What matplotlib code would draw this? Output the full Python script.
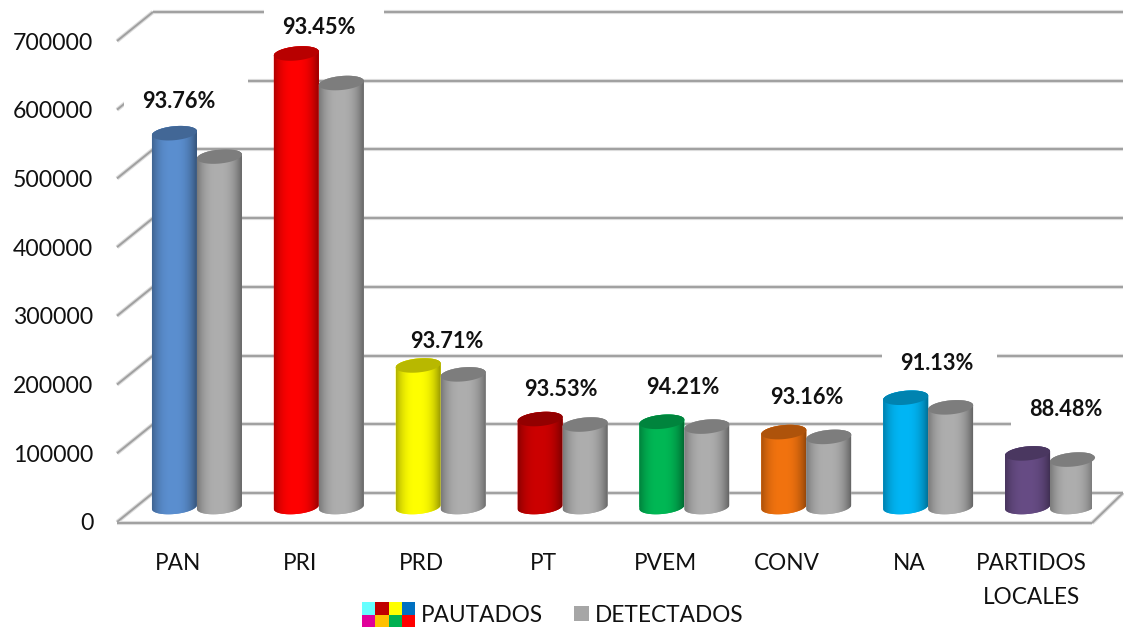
import numpy as np
import matplotlib
matplotlib.use("Agg")
import matplotlib.pyplot as plt
from matplotlib.patches import Polygon, Rectangle
from matplotlib.legend_handler import HandlerBase
from matplotlib.colors import to_rgb

# ---- data ----
categories = ["PAN", "PRI", "PRD", "PT", "PVEM", "CONV", "NA", "PARTIDOS\nLOCALES"]
pautados = [544000, 660000, 206000, 128000, 124000, 109000, 159000, 78000]
detectados = [510000, 617000, 193000, 120000, 117000, 102000, 145000, 69000]
percent_labels = ["93.76%", "93.45%", "93.71%", "93.53%", "94.21%", "93.16%", "91.13%", "88.48%"]
y_ticks = [0, 100000, 200000, 300000, 400000, 500000, 600000, 700000]

# ---- styles / layout ----
bar_colors = ["#5B8FD0", "#FF0000", "#FFFF00", "#CC0000", "#00B855", "#F2730F", "#00B6F5", "#674C85"]
gray = "#AEAEAE"
legend_cells = ["#66FFFF", "#C00000", "#FFFF00", "#0070C0", "#E0009A", "#FFC000", "#00B050", "#FF0000"]
label_px = [(179, 102), (319, 28), (447, 341), (561, 389), (683, 387), (807, 397), (937, 364), (1066, 410)]
white_boxes_px = [(124, 70, 248, 125), (264, 0, 384, 40), (882, 345, 997, 378), (1011, 385, 1124, 440)]

W, H = 1124, 628
plt.rcParams["font.family"] = ["Lato", "DejaVu Sans"]
fig = plt.figure(figsize=(W / 100, H / 100), dpi=100, facecolor="white")
L, R, T, B = 117, 1092, 41, 522
ax = fig.add_axes([L / W, 1 - B / H, (R - L) / W, (B - T) / H])
ax.set_xlim(-0.5, 7.5)
ax.set_ylim(0, 700000)
for s in ax.spines.values():
    s.set_visible(False)

PXX = 8 / (R - L)
PXY = 700000 / (B - T)
def dx(p): return p * PXX
def dy(p): return p * PXY
def X(p): return -0.5 + (p - L) * PXX
def Y(p): return (B - p) * PXY

ax.set_yticks(y_ticks)
ax.set_yticklabels([str(v) for v in y_ticks], fontsize=16.6, color="#111111")
ax.set_xticks(range(len(categories)))
ax.set_xticklabels(categories, fontsize=16.3, color="#111111", linespacing=1.8)
ax.tick_params(axis="both", length=0)
ax.tick_params(axis="y", pad=17)
ax.tick_params(axis="x", pad=22)

# wall and floor
wall_dx, wall_dy = dx(36), dy(29)
def gline(xs, ys, z=1):
    ax.plot(xs, ys, color="#DCDCDC", lw=3.0, zorder=z, clip_on=False, solid_capstyle="butt")
    ax.plot(xs, ys, color="#A0A0A0", lw=1.4, zorder=z + 0.1, clip_on=False, solid_capstyle="butt")

x_l = -0.5
x_r = 7.5
for v in y_ticks:
    gline([x_l, x_l + wall_dx], [v, v + wall_dy])
    gline([x_l + wall_dx, x_r + dx(31)], [v + wall_dy, v + wall_dy])
gline([x_l, x_r], [dy(-1), dy(-1)])
gline([x_r, x_r + dx(31)], [dy(-1), wall_dy])

for x0, y0, x1, y1 in white_boxes_px:
    ax.add_patch(Rectangle((X(x0), Y(y1)), dx(x1 - x0), dy(y1 - y0), fc="white", ec="none",
                           zorder=2, clip_on=False))

# cylinders
base = dy(15)
depth = dx(19)
half = dx(22.5)
cap_b = dy(7)
tilt = dy(2)
theta = np.linspace(0, 2 * np.pi, 73)
u = np.linspace(0, 1, 128)
profile = 1 - 0.36 * np.abs(2 * (u - 0.47)) ** 2.6

def ring(cx, cy, t):
    c = np.cos(t)
    return np.column_stack([cx + half * c, cy + cap_b * np.sin(t) + tilt * c])

def cylinder(bar, color, z):
    rect = bar
    cx = rect.get_x() + rect.get_width() / 2
    top = rect.get_y() + rect.get_height()
    bot = rect.get_y()
    rgb = np.array(to_rgb(color))
    low = ring(cx, bot, np.linspace(np.pi, 2 * np.pi, 37))
    up = ring(cx, top, np.linspace(0, np.pi, 37))
    body = Polygon(np.vstack([low, up]), closed=True, fc=color, ec="none", zorder=z)
    ax.add_patch(body)
    rect.set_clip_path(body)
    img = (profile[:, None] * rgb)[None, :, :]
    im = ax.imshow(img, extent=(cx - half, cx + half, bot - dy(8), top + dy(8)),
                   aspect="auto", zorder=z + 0.1, interpolation="bilinear", clip_on=True)
    im.set_clip_path(body)
    cap = Polygon(ring(cx, top, theta), closed=True, fc=tuple(rgb * 0.72), ec="none", zorder=z + 0.2,
                  clip_on=False)
    ax.add_patch(cap)

xs = np.arange(len(categories))
bars_a = ax.bar(xs + depth - half, np.array(pautados), width=2 * half, bottom=base,
                color=bar_colors, linewidth=0, zorder=5)
bars_b = ax.bar(xs + depth + half, np.array(detectados), width=2 * half, bottom=base,
                color=gray, linewidth=0, zorder=6)
for b, c in zip(bars_a, bar_colors):
    cylinder(b, c, 5)
for b in bars_b:
    cylinder(b, gray, 6)
ax.set_xlim(-0.5, 7.5)
ax.set_ylim(0, 700000)

for (px, py), t in zip(label_px, percent_labels):
    ax.text(X(px), Y(py), t, ha="center", va="center", fontsize=15.7, fontweight="bold",
            color="#111111", zorder=8, clip_on=False)

# legend
class MultiHandler(HandlerBase):
    def create_artists(self, legend, orig, xd, yd, width, height, fontsize, trans):
        out = []
        cw = width / 4
        ch = 12.5 * 0.72
        for i, c in enumerate(legend_cells):
            r, col = divmod(i, 4)
            out.append(Rectangle((col * cw - xd, -yd + height / 2 + (0 if r == 0 else -ch) - 1), cw, ch,
                                 fc=c, ec="none", transform=trans))
        return out

class SquareHandler(HandlerBase):
    def create_artists(self, legend, orig, xd, yd, width, height, fontsize, trans):
        s = 15 * 0.72
        return [Rectangle((width - s - xd, -yd + height / 2 - s / 2), s, s, fc="#A6A6A6", ec="none",
                          transform=trans)]

h1, h2 = Rectangle((0, 0), 1, 1), Rectangle((0, 0), 1, 1)
leg = fig.legend([h1, h2], ["PAUTADOS", "DETECTADOS"], ncol=2, frameon=False, fontsize=16.3,
                 loc="center", bbox_to_anchor=(553 / W, 1 - 615 / H),
                 handler_map={h1: MultiHandler(), h2: SquareHandler()},
                 handlelength=53 * 0.72 / 16.3, handletextpad=0.26, columnspacing=-0.3, borderpad=0,
                 labelcolor="#111111")
fig.savefig("out.png", dpi=100, facecolor="white")
